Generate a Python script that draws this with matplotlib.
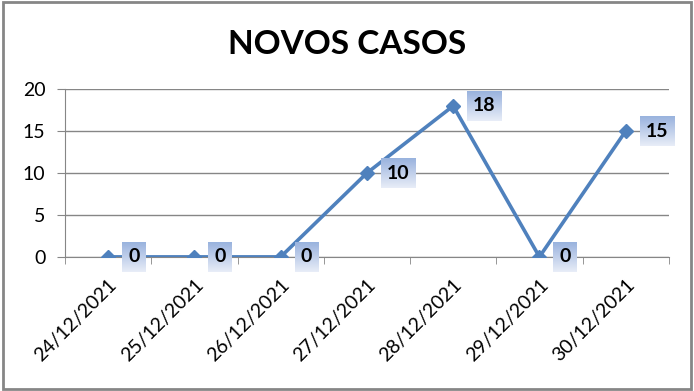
import matplotlib.pyplot as plt
import numpy as np
from matplotlib.patches import Rectangle
from matplotlib.image import BboxImage
from matplotlib.transforms import Bbox

dates = ['24/12/2021', '25/12/2021', '26/12/2021', '27/12/2021',
         '28/12/2021', '29/12/2021', '30/12/2021']
casos = [0, 0, 0, 10, 18, 0, 15]
yticks = [0, 5, 10, 15, 20]

plt.rcParams['font.family'] = ['Lato', 'DejaVu Sans']

fig = plt.figure(figsize=(6.94, 3.91), dpi=100)
ax = fig.add_axes([0.0937, 0.343, 0.870, 0.429])

# moldura
fig.patches.append(Rectangle((0.004, 0.006), 0.992, 0.988, transform=fig.transFigure,
                             facecolor='none', edgecolor='#868686', linewidth=2))

x = list(range(len(dates)))
ax.plot(x, casos, color='#4f81bd', linewidth=2.6, marker='D', markersize=7.5,
        markerfacecolor='#4f81bd', markeredgecolor='#4f81bd', zorder=3)

labels = []
for xi, v in zip(x, casos):
    t = ax.annotate(str(v), (xi, v), xytext=(20, 0), textcoords='offset pixels',
                    ha='left', va='center', fontsize=14, fontweight='bold', color='black',
                    zorder=5)
    labels.append(t)

ax.set_xlim(-0.5, 6.5)
ax.set_ylim(0, 20)
ax.set_yticks(yticks)
ax.set_xticks(x)
ax.set_xticklabels(dates, rotation=45, ha='right', rotation_mode='anchor', fontsize=14)
ax.set_xticks([i + 0.5 for i in range(-1, 7)], minor=True)
ax.tick_params(axis='x', which='major', length=0, pad=14)
ax.tick_params(axis='x', which='minor', length=5, direction='out', color='#868686')
ax.tick_params(axis='y', length=6, color='#868686', labelsize=14, pad=8)
ax.grid(axis='y', color='#868686', linewidth=1)
ax.set_axisbelow(True)
for s in ['top', 'right']:
    ax.spines[s].set_visible(False)
ax.spines['left'].set_color('#868686')
ax.spines['bottom'].set_color('#868686')

fig.text(0.5, 0.885, 'NOVOS CASOS', ha='center', va='center', fontsize=24, fontweight='bold')

# caixas com degradê atrás dos rótulos
fig.canvas.draw()
grad = np.linspace(0, 1, 64).reshape(-1, 1)
top = np.array([0.60, 0.70, 0.87])
bot = np.array([0.91, 0.93, 0.97])
rgb = top[None, None, :] * (1 - grad[:, :, None]) + bot[None, None, :] * grad[:, :, None]
for t in labels:
    bb = t.get_window_extent()
    cy = (bb.y0 + bb.y1) / 2
    box = Bbox.from_extents(bb.x0 - 6, cy - 15, bb.x1 + 6, cy + 15)
    img = BboxImage(box, interpolation='bilinear', zorder=4)
    img.set_data(rgb)
    img.set_clip_on(False)
    ax.add_artist(img)

fig.savefig('out.png', dpi=100)
